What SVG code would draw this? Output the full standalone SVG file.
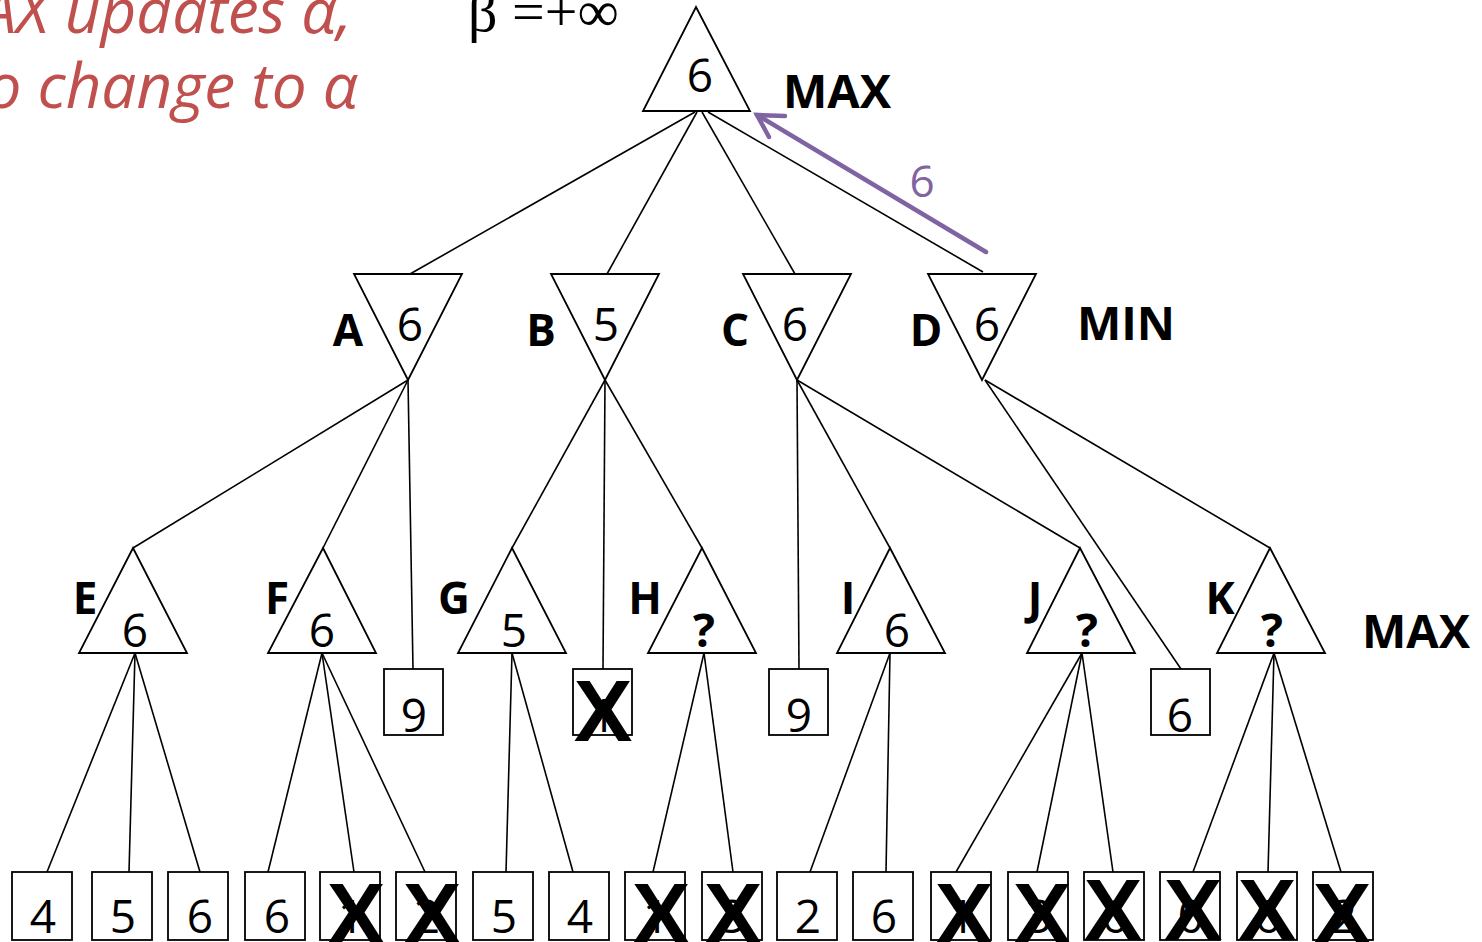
<svg xmlns="http://www.w3.org/2000/svg" width="1482" height="942" viewBox="0 0 1482 942">
<style>
.ln{stroke:#000;stroke-width:1.6;fill:none}
.tri{fill:#fff;stroke:#000;stroke-width:1.8}
.box{fill:#fff;stroke:#000;stroke-width:1.8}
.num{font-family:"Open Sans","Noto Sans",sans-serif;font-size:46px;text-anchor:middle;fill:#000}
.q{font-family:"Open Sans","Noto Sans",sans-serif;font-size:46px;font-weight:bold;text-anchor:middle;fill:#000}
.lbl{font-family:"Open Sans","Noto Sans",sans-serif;font-weight:bold;font-size:47px;fill:#000}
.let{font-family:"Open Sans","Noto Sans",sans-serif;font-weight:bold;font-size:44px;text-anchor:middle;fill:#000}
.x{font-family:"Liberation Sans",Arial,sans-serif;font-weight:bold;font-size:88px;text-anchor:middle;fill:#000}
.note{font-family:"Open Sans","Noto Sans",sans-serif;font-style:italic;font-size:62px;fill:#c0504d;text-anchor:end}
.pur{stroke:#8064a2;stroke-width:4.5;fill:none;stroke-linecap:round}
</style>
<rect width="1482" height="942" fill="#fff"/>
<text class="note" x="352" y="33">AX updates α,</text>
<text class="note" x="358" y="108">o change to α</text>
<text x="468" y="31" font-family="Liberation Serif,Times New Roman,serif" font-size="58">β =+∞</text>

<g id="connectors">
<line class="ln" x1="695" y1="112" x2="410" y2="274"/>
<line class="ln" x1="697" y1="112" x2="607" y2="274"/>
<line class="ln" x1="702" y1="112" x2="795" y2="274"/>
<line class="ln" x1="708" y1="112" x2="983" y2="272"/>
<line class="ln" x1="408" y1="380" x2="133" y2="548"/>
<line class="ln" x1="408" y1="380" x2="323" y2="548"/>
<line class="ln" x1="408" y1="380" x2="413" y2="669"/>
<line class="ln" x1="605" y1="380" x2="512" y2="548"/>
<line class="ln" x1="605" y1="380" x2="603" y2="669"/>
<line class="ln" x1="605" y1="380" x2="702" y2="548"/>
<line class="ln" x1="797" y1="380" x2="799" y2="669"/>
<line class="ln" x1="797" y1="380" x2="890" y2="548"/>
<line class="ln" x1="797" y1="380" x2="1080" y2="548"/>
<line class="ln" x1="985" y1="380" x2="1181" y2="669"/>
<line class="ln" x1="985" y1="380" x2="1270" y2="548"/>
<line class="ln" x1="135" y1="653" x2="47" y2="872"/>
<line class="ln" x1="135" y1="653" x2="129" y2="872"/>
<line class="ln" x1="135" y1="653" x2="200" y2="872"/>
<line class="ln" x1="322" y1="653" x2="268" y2="872"/>
<line class="ln" x1="322" y1="653" x2="354" y2="872"/>
<line class="ln" x1="322" y1="653" x2="425" y2="872"/>
<line class="ln" x1="512" y1="653" x2="506" y2="872"/>
<line class="ln" x1="512" y1="653" x2="573" y2="872"/>
<line class="ln" x1="704" y1="653" x2="653" y2="872"/>
<line class="ln" x1="704" y1="653" x2="733" y2="872"/>
<line class="ln" x1="890" y1="653" x2="810" y2="872"/>
<line class="ln" x1="890" y1="653" x2="886" y2="872"/>
<line class="ln" x1="1082" y1="653" x2="956" y2="872"/>
<line class="ln" x1="1082" y1="653" x2="1037" y2="872"/>
<line class="ln" x1="1082" y1="653" x2="1113" y2="872"/>
<line class="ln" x1="1274" y1="653" x2="1193" y2="872"/>
<line class="ln" x1="1274" y1="653" x2="1268" y2="872"/>
<line class="ln" x1="1274" y1="653" x2="1341" y2="872"/>
<line class="pur" x1="986" y1="252" x2="757" y2="115"/>
<polyline class="pur" points="785,116 757,115 769,137"/>
<text x="922" y="197" font-family="Open Sans,Noto Sans,sans-serif" font-size="44" fill="#8064a2" text-anchor="middle">6</text>
</g>

<g id="root"><polygon class="tri" points="696,7 750,111 643,111"/><text class="num" x="700" y="92">6</text><text class="lbl" x="783" y="108">MAX</text></g>

<g id="A"><polygon class="tri" points="354,274 462,274 408,380"/><text class="num" x="410" y="341">6</text><text class="let" x="348" y="346">A</text></g>
<g id="B"><polygon class="tri" points="551,274 659,274 605,380"/><text class="num" x="606" y="341">5</text><text class="let" x="541" y="346">B</text></g>
<g id="C"><polygon class="tri" points="743,274 851,274 797,380"/><text class="num" x="795" y="341">6</text><text class="let" x="735" y="346">C</text></g>
<g id="D"><polygon class="tri" points="928,274 1036,274 982,380"/><text class="num" x="987" y="341">6</text><text class="let" x="926" y="346">D</text></g>
<text class="lbl" x="1077" y="340">MIN</text>

<g id="E"><polygon class="tri" points="133,548 187,653 79,653"/><text class="num" x="135" y="647">6</text><text class="let" x="85" y="614">E</text></g>
<g id="F"><polygon class="tri" points="323,548 376,653 268,653"/><text class="num" x="322" y="647">6</text><text class="let" x="277" y="614">F</text></g>
<g id="G"><polygon class="tri" points="512,548 566,653 458,653"/><text class="num" x="514" y="647">5</text><text class="let" x="454" y="614">G</text></g>
<g id="H"><polygon class="tri" points="702,548 756,653 648,653"/><text class="q" x="704" y="647">?</text><text class="let" x="645" y="614">H</text></g>
<g id="I"><polygon class="tri" points="890,548 945,653 837,653"/><text class="num" x="897" y="647">6</text><text class="let" x="848" y="614">I</text></g>
<g id="J"><polygon class="tri" points="1080,548 1135,653 1027,653"/><text class="q" x="1087" y="647">?</text><text class="let" x="1035" y="614">J</text></g>
<g id="K"><polygon class="tri" points="1270,548 1325,653 1217,653"/><text class="q" x="1272" y="647">?</text><text class="let" x="1220" y="614">K</text></g>
<text class="lbl" x="1362" y="648">MAX</text>

<g id="leafA3"><rect class="box" x="384" y="669" width="59" height="66"/><text class="num" x="414" y="732">9</text></g>
<g id="leafB2"><rect class="box" x="573" y="669" width="59" height="66"/><text class="num" x="603" y="732">1</text><text class="x" x="603" y="741">X</text></g>
<g id="leafC1"><rect class="box" x="769" y="669" width="59" height="66"/><text class="num" x="799" y="732">9</text></g>
<g id="leafD1"><rect class="box" x="1151" y="669" width="59" height="66"/><text class="num" x="1180" y="732">6</text></g>

<g id="leafE1"><rect class="box" x="12" y="872" width="60" height="68"/><text class="num" x="43" y="933">4</text></g>
<g id="leafE2"><rect class="box" x="92" y="872" width="60" height="68"/><text class="num" x="123" y="933">5</text></g>
<g id="leafE3"><rect class="box" x="168" y="872" width="60" height="68"/><text class="num" x="200" y="933">6</text></g>
<g id="leafF1"><rect class="box" x="245" y="872" width="60" height="68"/><text class="num" x="277" y="933">6</text></g>
<g id="leafF2"><rect class="box" x="320" y="872" width="60" height="68"/><text class="num" x="351" y="933">1</text><text class="x" x="356" y="944">X</text></g>
<g id="leafF3"><rect class="box" x="396" y="872" width="60" height="68"/><text class="num" x="427" y="933">2</text><text class="x" x="432" y="944">X</text></g>
<g id="leafG1"><rect class="box" x="473" y="872" width="60" height="68"/><text class="num" x="504" y="933">5</text></g>
<g id="leafG2"><rect class="box" x="549" y="872" width="60" height="68"/><text class="num" x="580" y="933">4</text></g>
<g id="leafH1"><rect class="box" x="625" y="872" width="60" height="68"/><text class="num" x="656" y="933">1</text><text class="x" x="661" y="944">X</text></g>
<g id="leafH2"><rect class="box" x="702" y="872" width="60" height="68"/><text class="num" x="733" y="933">3</text><text class="x" x="733" y="944">X</text></g>
<g id="leafI1"><rect class="box" x="777" y="872" width="60" height="68"/><text class="num" x="808" y="933">2</text></g>
<g id="leafI2"><rect class="box" x="853" y="872" width="60" height="68"/><text class="num" x="884" y="933">6</text></g>
<g id="leafJ1"><rect class="box" x="931" y="872" width="60" height="68"/><text class="num" x="962" y="933">1</text><text class="x" x="964" y="944">X</text></g>
<g id="leafJ2"><rect class="box" x="1008" y="872" width="60" height="68"/><text class="num" x="1039" y="933">3</text><text class="x" x="1042" y="944">X</text></g>
<g id="leafJ3"><rect class="box" x="1084" y="872" width="60" height="68"/><text class="num" x="1115" y="933">6</text><text class="x" x="1113" y="940">X</text></g>
<g id="leafK1"><rect class="box" x="1160" y="872" width="60" height="68"/><text class="num" x="1191" y="933">0</text><text class="x" x="1193" y="940">X</text></g>
<g id="leafK2"><rect class="box" x="1237" y="872" width="60" height="68"/><text class="num" x="1268" y="933">6</text><text class="x" x="1267" y="940">X</text></g>
<g id="leafK3"><rect class="box" x="1313" y="872" width="60" height="68"/><text class="num" x="1344" y="933">2</text><text class="x" x="1342" y="944">X</text></g>
</svg>
